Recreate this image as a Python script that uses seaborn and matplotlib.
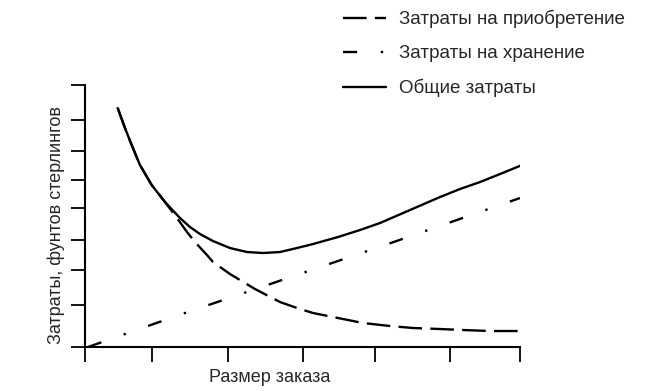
import matplotlib.pyplot as plt
import numpy as np
import pandas as pd
import seaborn as sns

# values (arbitrary units, no tick labels in original)
order_size_total = [32.7, 40, 46.7, 55, 66.7, 80, 95, 105, 115, 128, 145, 162, 178, 195,
                    212, 228, 253, 275, 295, 325, 355, 375, 395, 415, 437]
total_cost = [239, 219, 202, 182, 162, 145, 129, 120, 113, 106, 99, 95, 94, 95,
              99, 103, 110, 117, 124, 137, 150, 158, 165, 173, 182]

order_size_acq = [32.7, 40, 46.7, 55, 66.7, 80, 92, 102, 110, 122, 128, 145, 170, 195,
                  212, 228, 253, 278, 305, 328, 355, 378, 405, 437]
acquisition_cost = [239, 219, 202, 182, 162, 145, 129, 115, 105, 92, 85, 73, 58, 45,
                    39, 34, 29, 24, 21, 19, 18, 17, 16, 16]

order_size_hold = [3, 100, 200, 300, 435]
holding_cost = [0, 34, 68, 102, 149]

x_ticks = [0, 67, 143, 218, 290, 365, 435]
y_ticks = [0, 42, 77, 107, 139, 167, 196, 227, 262]

labels = ['Затраты на приобретение', 'Затраты на хранение', 'Общие затраты']
x_label = 'Размер заказа'
y_label = 'Затраты, фунтов стерлингов'

sns.set_style('ticks')
plt.rcParams['font.family'] = ['Liberation Sans', 'DejaVu Sans']

fig = plt.figure(figsize=(6.66, 3.91), dpi=100)
ax = fig.add_axes([0.1276, 0.1125, 0.6532, 0.670])

lw = 1.7
sns.lineplot(x=order_size_acq, y=acquisition_cost, color='black', linewidth=lw,
             linestyle=(0, (10, 3.5)), ax=ax, label=labels[0])
sns.lineplot(x=order_size_hold, y=holding_cost, color='black', linewidth=lw,
             linestyle=(0, (6, 10, 1, 10)), ax=ax, label=labels[1])
sns.lineplot(x=order_size_total, y=total_cost, color='black', linewidth=lw,
             ax=ax, label=labels[2])

ax.set_xlim(0, 435)
ax.set_ylim(0, 262)
ax.set_xticks(x_ticks)
ax.set_yticks(y_ticks)
ax.set_xticklabels([])
ax.set_yticklabels([])
ax.tick_params(axis='x', direction='out', length=11, width=1.3, color='black')
ax.tick_params(axis='y', direction='out', length=10, width=1.3, color='black')
sns.despine(ax=ax)
for s in ['left', 'bottom']:
    ax.spines[s].set_color('black')
    ax.spines[s].set_linewidth(1.5)

ax.set_xlabel(x_label, fontsize=13)
ax.xaxis.set_label_coords(0.425, -0.085)
ax.set_ylabel(y_label, fontsize=13)
ax.yaxis.set_label_coords(-0.045, 0.466)

handles, lbls = ax.get_legend_handles_labels()
ax.get_legend().remove()
fig.legend(handles, lbls, loc='upper left', bbox_to_anchor=(0.49, 1.018),
           frameon=False, fontsize=13.5, handlelength=2.3, labelspacing=0.9,
           handletextpad=0.7)

fig.savefig('out.png', dpi=100)
